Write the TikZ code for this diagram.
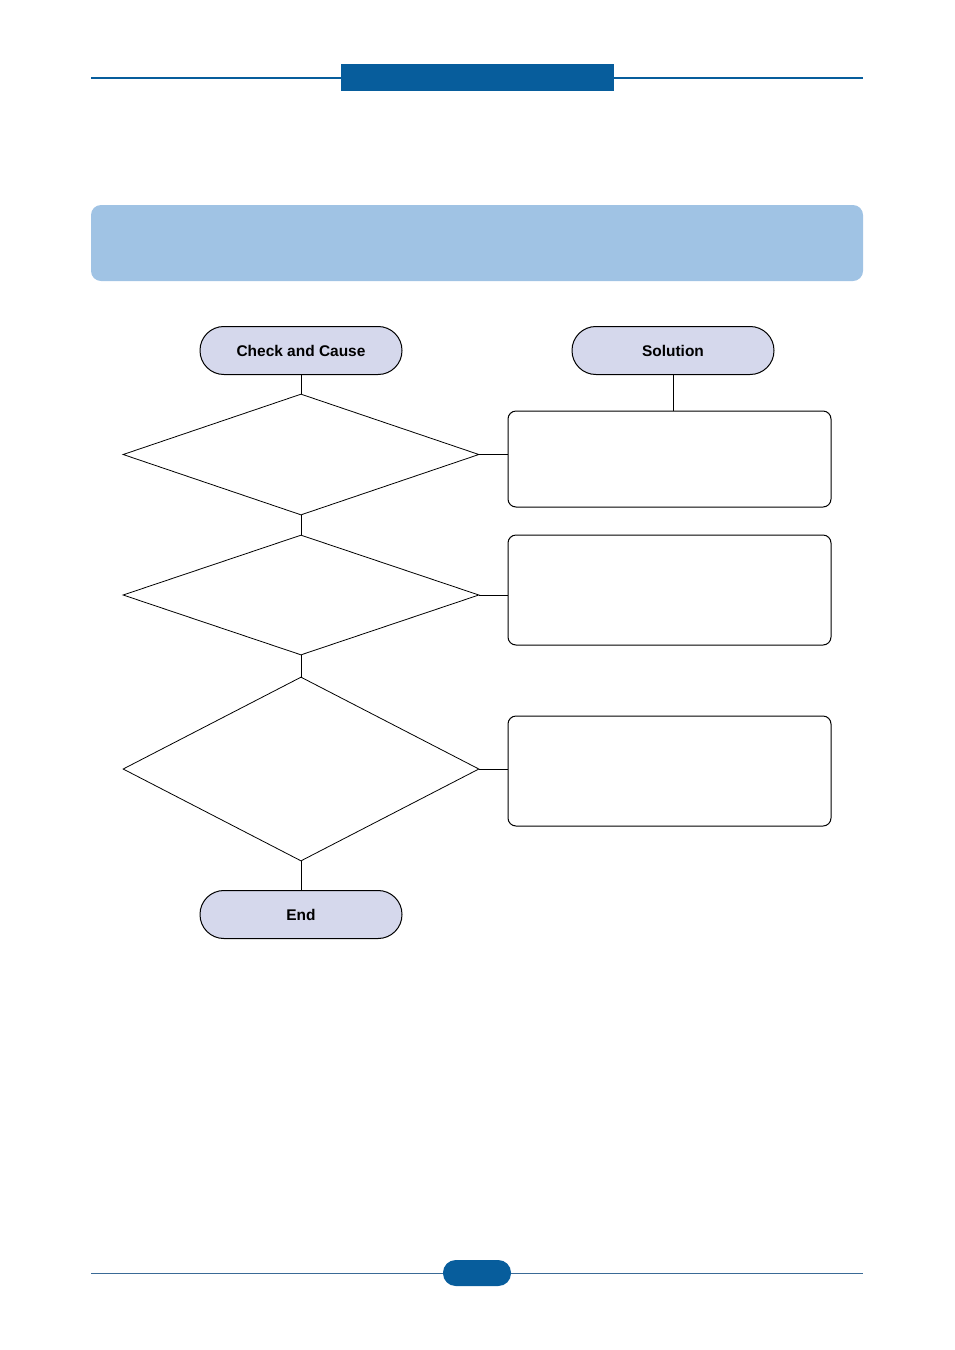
\documentclass[tikz,border=0pt]{standalone}
\usepackage{fontspec}
\setmainfont{Liberation Sans}
\usetikzlibrary{shapes.geometric}
\definecolor{hdrblue}{HTML}{075D9C}
\definecolor{banner}{HTML}{A0C3E4}
\definecolor{termfill}{HTML}{D5D8EC}
\definecolor{footline}{HTML}{3A6A96}
\begin{document}
\begin{tikzpicture}[x=0.75pt,y=-0.75pt,
  conn/.style={line width=0.75pt,draw=black},
  term/.style={draw=black,line width=0.75pt,fill=termfill,rounded corners=17.9pt,
    minimum width=151.5pt,minimum height=36pt,inner sep=0pt,
    font=\bfseries\fontsize{11.6}{13}\selectfont},
  decision/.style={draw=black,line width=0.6pt,diamond,inner sep=0pt},
  solbox/.style={draw=black,line width=0.75pt,rounded corners=6pt,
    minimum width=242.25pt,inner sep=0pt},
]
\useasboundingbox (0,0) rectangle (954,1350);
% header
\draw[hdrblue,line width=1.5pt] (91,78) -- (863,78);
\fill[hdrblue] (341,64) rectangle (614,91);
% banner
\fill[banner,rounded corners=7.5pt] (91,205) rectangle (863,281);
% terminals
\node[term] (check) at (301,350.5) {Check and Cause};
\node[term] (sol) at (673,350.5) {Solution};
\node[term] (end) at (301,914.5) {End};
% decisions
\node[decision,minimum width=267pt,minimum height=90.75pt] (d1) at (301,454.5) {};
\node[decision,minimum width=267pt,minimum height=90pt] (d2) at (301,595) {};
\node[decision,minimum width=267pt,minimum height=138pt] (d3) at (301,769) {};
% solution boxes
\node[solbox,minimum height=72pt] (b1) at (669.5,459) {};
\node[solbox,minimum height=82.5pt] (b2) at (669.5,590) {};
\node[solbox,minimum height=82.5pt] (b3) at (669.5,771) {};
% connectors
\draw[conn] (check.south) -- (d1.north);
\draw[conn] (d1.south) -- (d2.north);
\draw[conn] (d2.south) -- (d3.north);
\draw[conn] (d3.south) -- (end.north);
\draw[conn] (sol.south) -- (b1.north -| sol.south);
\draw[conn] (d1.east) -- (d1.east -| b1.west);
\draw[conn] (d2.east) -- (d2.east -| b2.west);
\draw[conn] (d3.east) -- (d3.east -| b3.west);
% footer
\draw[footline,line width=0.6pt] (91,1273) -- (863,1273);
\fill[hdrblue,rounded corners=9.5pt] (443,1260) rectangle (511,1286);
\end{tikzpicture}
\end{document}
